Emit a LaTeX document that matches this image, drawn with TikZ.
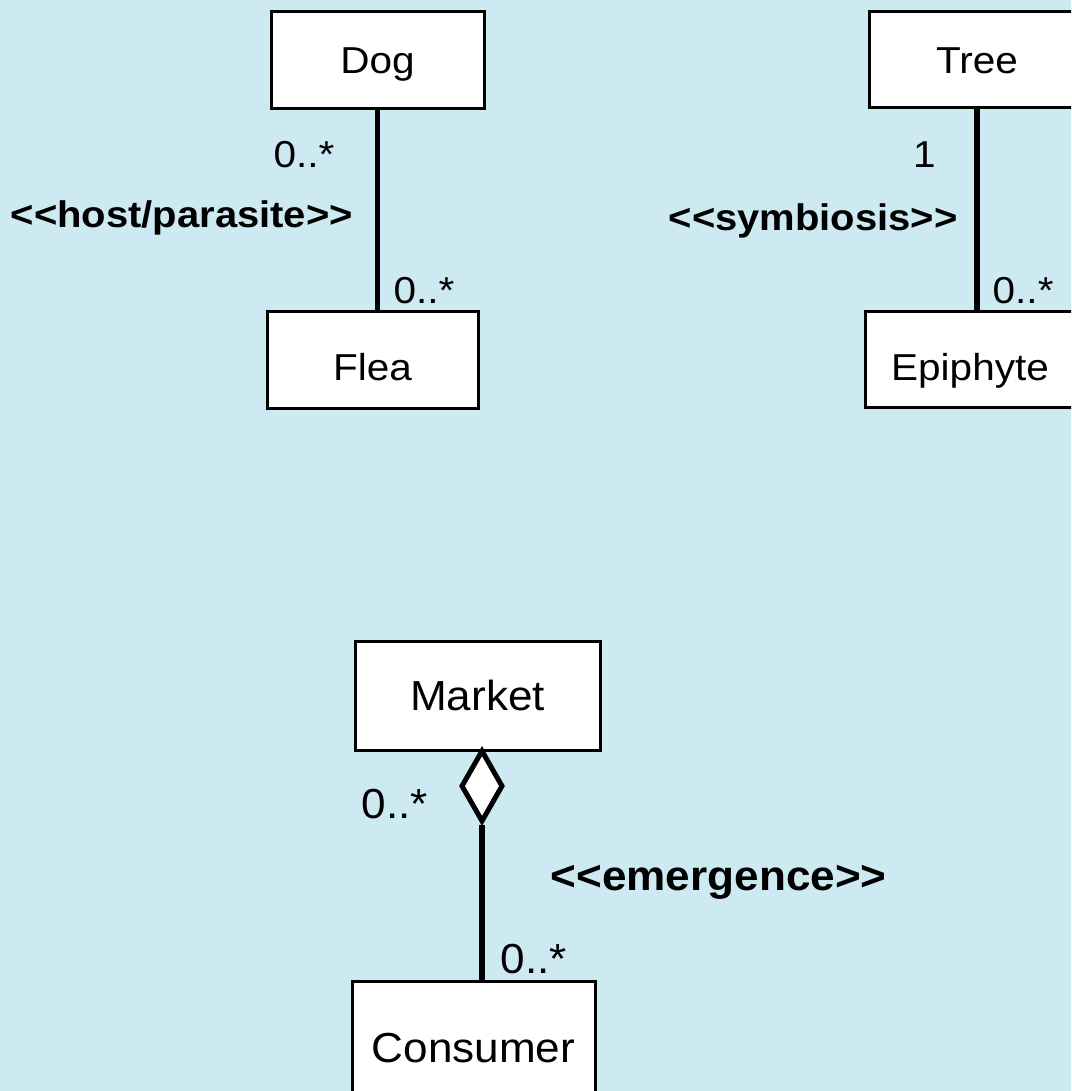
\documentclass[tikz,border=0pt]{standalone}
\usepackage{fontspec}
\setmainfont{Liberation Sans}[Ligatures=TeXOff]
\usetikzlibrary{shapes.geometric}
\definecolor{bg}{RGB}{205,233,241}
\newcommand{\hx}[2][1.08]{\scalebox{#1}[1]{#2}}
\begin{document}
\begin{tikzpicture}[x=1pt,y=-1pt,
  cls/.style={draw, fill=white, line width=3pt, inner sep=0pt},
  topf/.style={font=\fontsize{37.5}{45}\selectfont},
  botf/.style={font=\fontsize{42}{50}\selectfont},
  boldt/.style={font=\fontsize{37}{45}\selectfont\bfseries},
  boldb/.style={font=\fontsize{42}{50}\selectfont\bfseries},
  lbl/.style={inner sep=0pt, anchor=base west},
  link/.style={line width=5.5pt}]
\fill[bg] (0,0) rectangle (1071,1091);
\useasboundingbox (0,0) rectangle (1071,1091);
\begin{scope}
\clip (0,0) rectangle (1071,1091);
% class boxes
\node[cls, topf, text height=27, text depth=0, minimum width=213, minimum height=97] (dog) at (377.5,60.5) {\hx{Dog}};
\node[cls, topf, text height=42, text depth=0, minimum width=211, minimum height=97] (flea) at (372.5,359.5) {\hx{Flea}};
\node[cls, topf, text height=27, text depth=0, minimum width=216, minimum height=96] (tree) at (977,60) {\hx{Tree}};
\node[cls, topf, text height=42, text depth=0, minimum width=210, minimum height=96] (epi) at (970,359) {\hx{Epiphyte}};
\node[cls, botf, minimum width=245, minimum height=109] (market) at (477.5,695.5) {\hx[1.05]{Market}};
\node[cls, botf, minimum width=243, minimum height=135] (cons) at (473.5,1048.5) {\hx[1.05]{Consumer}};
% aggregation diamond
\node[draw, fill=white, line width=5pt, diamond, inner sep=0pt, minimum width=42, minimum height=72] (agg) at (482,786) {};
% connectors
\draw[link] (dog.south) -- (dog.south |- flea.north);
\draw[link] (tree.south) -- (tree.south |- epi.north);
\draw[link] (agg.south) -- (agg.south |- cons.north);
% multiplicities
\node[lbl, topf] (m1) at (273.5,168) {\hx{0..*}};
\node[lbl, topf] (m2) at (393.5,303) {\hx{0..*}};
\node[lbl, topf] (m3) at (913,168) {\hx{1}};
\node[lbl, topf] (m4) at (992.5,303) {\hx{0..*}};
\node[lbl, botf] (m5) at (361.5,818) {\hx[1.05]{0..*}};
\node[lbl, botf] (m6) at (500.5,973) {\hx[1.05]{0..*}};
% stereotypes
\node[lbl, boldt] (s1) at (10.5,228) {\hx{<<host/parasite>>}};
\node[lbl, boldt] (s2) at (668.5,230) {\hx{<<symbiosis>>}};
\node[lbl, boldb] (s3) at (550.5,890) {\hx[1.05]{<<emergence>>}};
\end{scope}
\end{tikzpicture}
\end{document}
